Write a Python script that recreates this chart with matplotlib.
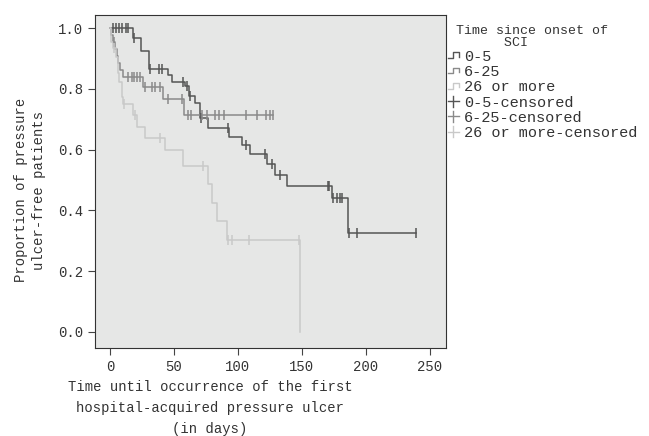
import numpy as np
import matplotlib
matplotlib.use("Agg")
import matplotlib.pyplot as plt
from matplotlib.lines import Line2D
from matplotlib.legend_handler import HandlerBase

plt.rcParams['font.family'] = ['Liberation Mono', 'DejaVu Sans Mono']

# ---- data ----
groups = ["0-5", "6-25", "26 or more"]

g05_t = [0, 18, 24.2, 30.5, 45.3, 48.4, 58.6, 61.7, 66.4, 70.3, 76.6, 93, 103,
         109.4, 122.7, 128.9, 138.3, 173.4, 185.9]
g05_s = [1.0, 0.966, 0.925, 0.866, 0.845, 0.822, 0.809, 0.776, 0.753, 0.704,
         0.671, 0.642, 0.615, 0.585, 0.553, 0.516, 0.480, 0.441, 0.326]
g05_end = 239
g05_c = [2.3, 4.7, 7, 9.4, 12.5, 14.1, 18.8, 31, 38.3, 40.6, 57, 60.2, 62.5, 71,
         92.2, 106.3, 121.1, 126.6, 132.8, 170.3, 171.1, 174.2, 177.3, 179.7,
         181.3, 186.7, 193, 239]

g625_t = [0, 0.8, 2.3, 3.9, 5.5, 6.3, 7.8, 10.2, 25.8, 41.4, 57.8]
g625_s = [1.0, 0.977, 0.953, 0.93, 0.907, 0.884, 0.861, 0.839, 0.806, 0.766, 0.714]
g625_end = 127.3
g625_c = [2.8, 14.1, 17.2, 18.8, 21.1, 23.4, 27.3, 32.8, 35.2, 39.1, 45.3, 56.3,
          60.9, 63.3, 71.9, 75.8, 82, 85.2, 89.1, 106.3, 114.8, 121.9, 125, 127.3]

g26_t = [0, 1, 2.5, 4.5, 6.3, 7, 9.4, 10.2, 18, 21.1, 27.3, 43, 57, 76.6, 79.7,
         83.6, 91.4, 148.4]
g26_s = [1.0, 0.955, 0.934, 0.905, 0.852, 0.822, 0.773, 0.75, 0.714, 0.674, 0.638,
         0.60, 0.546, 0.487, 0.424, 0.365, 0.303, 0.0]
g26_end = 148.4
g26_c = [3, 11, 19.5, 39, 72.7, 92.2, 95.3, 108.6, 148.0]

x_ticks = [0, 50, 100, 150, 200, 250]
y_ticks = [0.0, 0.2, 0.4, 0.6, 0.8, 1.0]

colors = ["#555555", "#8a8a8a", "#c9c9c9"]
text_col = "#333333"

series = [(g05_t, g05_s, g05_end, g05_c),
          (g625_t, g625_s, g625_end, g625_c),
          (g26_t, g26_s, g26_end, g26_c)]

fig = plt.figure(figsize=(6.49, 4.36), dpi=100)
ax = fig.add_axes([95/649, 1-348/436, (446-95)/649, (348-15)/436])
ax.set_facecolor("#e6e7e6")

for (t, s, end, c), col in zip(series, colors):
    tt = np.array(list(t) + [end])
    ss = np.array(list(s) + [s[-1]])
    ax.step(tt, ss, where='post', color=col, lw=1.1, zorder=3)
    c = np.array(c)
    idx = np.searchsorted(np.array(t), c, side='right') - 1
    ax.plot(c, np.array(s)[idx], linestyle='none', marker='|', color=col,
            markersize=7, mew=1.1, zorder=4)

ax.set_xlim(-11.7, 262.5)
ax.set_ylim(-0.053, 1.043)
ax.set_xticks(x_ticks)
ax.set_yticks(y_ticks)
ax.set_yticklabels([f"{v:.1f}" for v in y_ticks])
ax.tick_params(axis='both', direction='out', length=5, width=0.8,
               colors="#444444", labelsize=10, labelcolor=text_col)
for sp in ax.spines.values():
    sp.set_color("#333333")
    sp.set_linewidth(0.8)

fig.text(210/649, 1-408/436, "Time until occurrence of the first\nhospital-acquired pressure ulcer\n(in days)",
         ha='center', va='center', fontsize=10, color=text_col, linespacing=1.6)
fig.text(30/649, 1-190/436, "Proportion of pressure\nulcer-free patients",
         ha='center', va='center', rotation=90, fontsize=10, color=text_col,
         linespacing=1.35)


class StepHandler(HandlerBase):
    def create_artists(self, legend, orig_handle, xdescent, ydescent, width,
                       height, fontsize, trans):
        x0, w = -xdescent, width
        y0, h = -ydescent, height
        xs = [x0, x0 + 0.45*w, x0 + 0.45*w, x0 + w, x0 + w]
        ys = [y0 + 0.25*h, y0 + 0.25*h, y0 + 0.8*h, y0 + 0.8*h, y0 + 0.4*h]
        ln = Line2D(xs, ys, color=orig_handle.get_color(), lw=1.0, transform=trans)
        return [ln]


class CensHandler(HandlerBase):
    def create_artists(self, legend, orig_handle, xdescent, ydescent, width,
                       height, fontsize, trans):
        x0, w = -xdescent, width
        y0, h = -ydescent, height
        ln = Line2D([x0, x0 + w], [y0 + 0.5*h, y0 + 0.5*h],
                    color=orig_handle.get_color(), lw=1.0, transform=trans)
        mk = Line2D([x0 + 0.5*w, x0 + 0.5*w], [y0, y0 + h],
                    color=orig_handle.get_color(), lw=1.0, transform=trans)
        return [ln, mk]


class StepH(Line2D):
    pass


class CensH(Line2D):
    pass


handles = [StepH([], [], color=c) for c in colors] + [CensH([], [], color=c) for c in colors]
labels = groups + [g + "-censored" for g in groups]
leg = ax.legend(handles, labels, loc='upper left',
                bbox_to_anchor=(448/649, 1-25/436), bbox_transform=fig.transFigure,
                frameon=False, fontsize=11, handlelength=0.7, handleheight=0.7,
                handletextpad=0.35, labelspacing=0.08, borderaxespad=0, borderpad=0,
                title=" Time since onset of\n       SCI", title_fontsize=9.5,
                alignment='left',
                handler_map={StepH: StepHandler(), CensH: CensHandler()})
for t in leg.get_texts():
    t.set_color(text_col)
leg.get_title().set_color(text_col)
leg.get_title().set_linespacing(0.95)
leg._legend_box.sep = 1

fig.savefig("out.png", dpi=100, facecolor="white")
